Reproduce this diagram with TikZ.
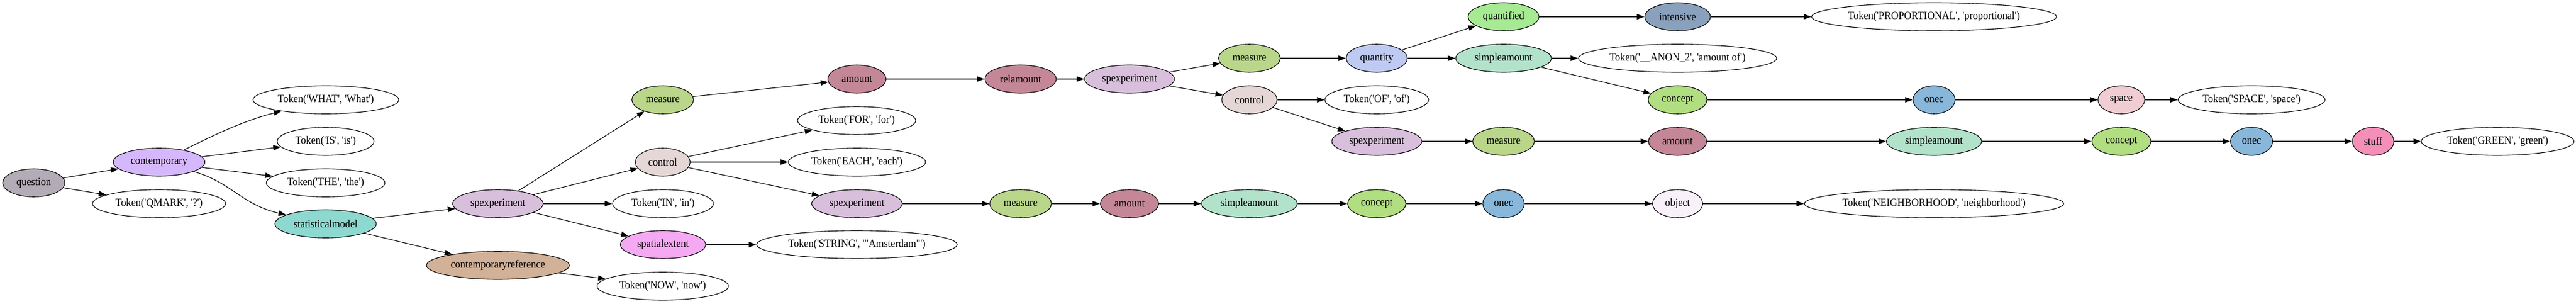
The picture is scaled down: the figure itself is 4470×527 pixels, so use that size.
\documentclass[tikz,border=0pt]{standalone}
\usepackage{fontspec}
\usepackage{graphicx}
\setmainfont{Liberation Serif}[Ligatures=TeXOff]
\usetikzlibrary{shapes.geometric,arrows.meta}
\definecolor{cQuestion}{HTML}{B3ABB5}
\definecolor{cContemp}{HTML}{D5B8FB}
\definecolor{cStat}{HTML}{8DD9D0}
\definecolor{cCref}{HTML}{D1B197}
\definecolor{cSpexp}{HTML}{D8BFDB}
\definecolor{cMeasure}{HTML}{B9D68A}
\definecolor{cControl}{HTML}{E5D7D5}
\definecolor{cSpat}{HTML}{F5A9F2}
\definecolor{cAmount}{HTML}{C38797}
\definecolor{cQuantity}{HTML}{BFCAF2}
\definecolor{cQuantified}{HTML}{A6EA93}
\definecolor{cSimple}{HTML}{B3E2CB}
\definecolor{cIntensive}{HTML}{8AA1BD}
\definecolor{cConcept}{HTML}{B1DE80}
\definecolor{cOnec}{HTML}{88B7D9}
\definecolor{cSpace}{HTML}{F0CDD2}
\definecolor{cStuff}{HTML}{F48FB8}
\definecolor{cObject}{HTML}{F9F1F9}
\tikzset{
  gnode/.style={ellipse, draw=black, line width=1.1pt, minimum height=48.5pt,
    inner sep=0pt, font=\fontsize{19.1}{22}\selectfont},
  edge/.style={line width=1.1pt, -{Triangle[length=13pt,width=9.3pt]}},
}
\newcommand\gnd[6]{\node[gnode,fill=#5,minimum width=#4pt] (#1) at (#2,#3) {\makebox[0pt]{\scalebox{0.926}[1]{#6}}};}
\begin{document}
\begin{tikzpicture}[x=1pt,y=-1pt]
\useasboundingbox (0,0) rectangle (4470,527);
% rank 0-2
\gnd{q}{58.6}{317}{108}{cQuestion}{question}
\gnd{cont}{276}{281}{159}{cContemp}{contemporary}
\gnd{tQ}{276}{353}{231}{white}{Token('QMARK', '?')}
\gnd{tWhat}{565.5}{173}{253}{white}{Token('WHAT', 'What')}
\gnd{tIs}{565}{245}{168}{white}{Token('IS', 'is')}
\gnd{tThe}{565}{317}{206}{white}{Token('THE', 'the')}
\gnd{stat}{565}{388}{176}{cStat}{statisticalmodel}
% rank 3
\gnd{sp1}{864}{353}{157}{cSpexp}{spexperiment}
\gnd{cref}{864}{460}{248}{cCref}{contemporaryreference}
% rank 4
\gnd{m1}{1150}{173}{107}{cMeasure}{measure}
\gnd{ctl1}{1150}{281}{95}{cControl}{control}
\gnd{tIn}{1150.5}{353}{175}{white}{Token('IN', 'in')}
\gnd{spat}{1150.5}{424}{148}{cSpat}{spatialextent}
\gnd{tNow}{1150}{496}{228}{white}{Token('NOW', 'now')}
% rank 5
\gnd{am1}{1487}{137}{101}{cAmount}{amount}
\gnd{tFor}{1486.5}{209}{205}{white}{Token('FOR', 'for')}
\gnd{tEach}{1487}{281}{238}{white}{Token('EACH', 'each')}
\gnd{sp3}{1487}{353}{157}{cSpexp}{spexperiment}
\gnd{tStr}{1487}{424}{348}{white}{Token('STRING', '"Amsterdam"')}
% rank 6
\gnd{rel}{1771}{137}{124}{cAmount}{relamount}
\gnd{mb}{1771}{353}{107}{cMeasure}{measure}
% rank 7
\gnd{sp2}{1960}{137}{156}{cSpexp}{spexperiment}
\gnd{amb}{1960}{353}{101}{cAmount}{amount}
% rank 8
\gnd{m2}{2168}{101}{107}{cMeasure}{measure}
\gnd{ctl2}{2168}{173}{96}{cControl}{control}
\gnd{sab}{2168}{353}{166}{cSimple}{simpleamount}
% rank 9
\gnd{qty}{2389}{101}{106}{cQuantity}{quantity}
\gnd{tOf}{2389}{173}{180}{white}{Token('OF', 'of')}
\gnd{sp4}{2389}{245}{156}{cSpexp}{spexperiment}
\gnd{cb}{2389}{353}{101}{cConcept}{concept}
% rank 10
\gnd{qf}{2609}{29}{123}{cQuantified}{quantified}
\gnd{sat}{2609}{101}{166}{cSimple}{simpleamount}
\gnd{m3}{2609}{245}{107}{cMeasure}{measure}
\gnd{ob}{2609}{353}{72}{cOnec}{onec}
% rank 11
\gnd{int}{2911}{29}{114}{cIntensive}{intensive}
\gnd{tAnon}{2911}{101}{344}{white}{Token('\_\_ANON\_2', 'amount of')}
\gnd{cm}{2911}{173}{102}{cConcept}{concept}
\gnd{am3}{2911}{245}{101}{cAmount}{amount}
\gnd{obj}{2911}{353}{87}{cObject}{object}
% rank 12
\gnd{tProp}{3356}{29}{425}{white}{Token('PROPORTIONAL', 'proportional')}
\gnd{om}{3356}{173}{73}{cOnec}{onec}
\gnd{sa3}{3356}{245}{165}{cSimple}{simpleamount}
\gnd{tNeigh}{3356}{353}{450}{white}{Token('NEIGHBORHOOD', 'neighborhood')}
% rank 13
\gnd{spc}{3681}{173}{81}{cSpace}{space}
\gnd{c3}{3681}{245}{102}{cConcept}{concept}
% rank 14
\gnd{tSpace}{3907}{173}{255}{white}{Token('SPACE', 'space')}
\gnd{o3}{3907}{245}{73}{cOnec}{onec}
% rank 15-16
\gnd{stuff}{4118}{245}{72}{cStuff}{stuff}
\gnd{tGreen}{4334}{245}{265}{white}{Token('GREEN', 'green')}
% edges
\draw[edge] (q) -- (cont);
\draw[edge] (q) -- (tQ);
\draw[edge] (cont) .. controls (370,235) and (420,210) .. (tWhat);
\draw[edge] (cont) -- (tIs);
\draw[edge] (cont) -- (tThe);
\draw[edge] (cont) .. controls (400,315) and (420,355) .. (stat);
\draw[edge] (stat) -- (sp1);
\draw[edge] (stat) -- (cref);
\draw[edge] (cref) -- (tNow);
\draw[edge] (sp1) -- (m1);
\draw[edge] (sp1) -- (ctl1);
\draw[edge] (sp1) -- (tIn);
\draw[edge] (sp1) -- (spat);
\draw[edge] (spat) -- (tStr);
\draw[edge] (m1) -- (am1);
\draw[edge] (ctl1) -- (tFor);
\draw[edge] (ctl1) -- (tEach);
\draw[edge] (ctl1) -- (sp3);
\draw[edge] (am1) -- (rel);
\draw[edge] (rel) -- (sp2);
\draw[edge] (sp2) -- (m2);
\draw[edge] (sp2) -- (ctl2);
\draw[edge] (m2) -- (qty);
\draw[edge] (qty) -- (qf);
\draw[edge] (qty) -- (sat);
\draw[edge] (qf) -- (int);
\draw[edge] (int) -- (tProp);
\draw[edge] (sat) -- (tAnon);
\draw[edge] (sat) -- (cm);
\draw[edge] (cm) -- (om);
\draw[edge] (om) -- (spc);
\draw[edge] (spc) -- (tSpace);
\draw[edge] (ctl2) -- (tOf);
\draw[edge] (ctl2) -- (sp4);
\draw[edge] (sp4) -- (m3);
\draw[edge] (m3) -- (am3);
\draw[edge] (am3) -- (sa3);
\draw[edge] (sa3) -- (c3);
\draw[edge] (c3) -- (o3);
\draw[edge] (o3) -- (stuff);
\draw[edge] (stuff) -- (tGreen);
\draw[edge] (sp3) -- (mb);
\draw[edge] (mb) -- (amb);
\draw[edge] (amb) -- (sab);
\draw[edge] (sab) -- (cb);
\draw[edge] (cb) -- (ob);
\draw[edge] (ob) -- (obj);
\draw[edge] (obj) -- (tNeigh);
\end{tikzpicture}
\end{document}
